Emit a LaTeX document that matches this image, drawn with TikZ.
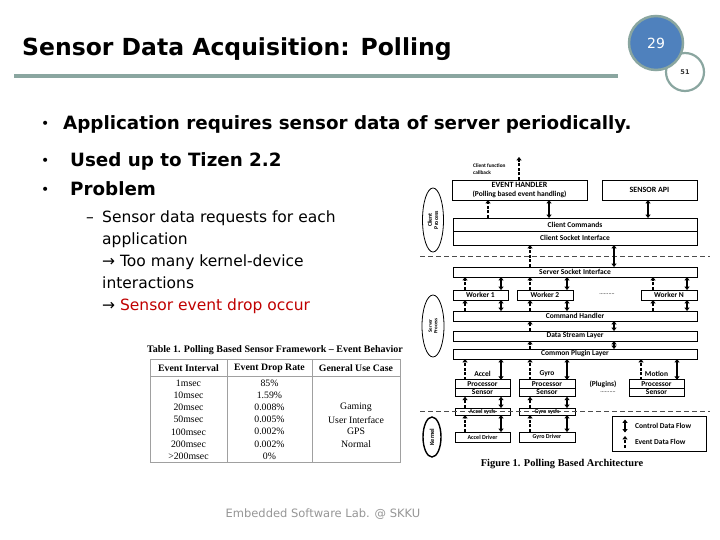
\documentclass[tikz,border=0pt]{standalone}
\usepackage{fontspec}
\setmainfont{DejaVu Sans}
\newfontfamily\figfont{Carlito}
\newfontfamily\serfont{Liberation Serif}
\usetikzlibrary{arrows.meta, shapes.geometric, positioning}

\definecolor{titleline}{RGB}{138,166,160}
\definecolor{pageblue}{RGB}{79,129,189}
\definecolor{alertred}{RGB}{192,0,0}
\definecolor{footgray}{RGB}{150,150,150}
\definecolor{tablegray}{RGB}{160,160,160}

\begin{document}
\begin{tikzpicture}[x=1pt, y=-1pt,
        slidetitle/.style={font=\bfseries\fontsize{23.5}{28}\selectfont, inner sep=0pt, anchor=base west},
        bigbullet/.style={font=\bfseries\fontsize{18.3}{22}\selectfont, inner sep=0pt, anchor=base west},
        dotmark/.style={inner sep=0pt, anchor=base west, font=\fontsize{14}{16}\selectfont},
        subline/.style={font=\fontsize{15.5}{19}\selectfont, inner sep=0pt, anchor=base west},
        archbox/.style={draw, line width=0.7pt, fill=white, inner sep=0pt, outer sep=0pt, font=\figfont\bfseries\fontsize{7.5}{8}\selectfont},
        smallbox/.style={archbox, font=\figfont\bfseries\fontsize{6}{6}\selectfont},
        figlabel/.style={inner sep=0pt, font=\figfont\bfseries\fontsize{7.5}{8}\selectfont},
        procell/.style={ellipse, draw, line width=0.8pt, fill=white, inner sep=0pt, align=center, rotate=90, font=\figfont\bfseries\fontsize{5.8}{6.3}\selectfont},
        ctrl/.style={{Triangle[length=3.4pt,width=5pt]}-{Triangle[length=3.4pt,width=5pt]}, line width=1.4pt},
        event/.style={-{Triangle[length=3.4pt,width=5pt]}, line width=1.3pt, dash pattern=on 3pt off 1.6pt},
        sepline/.style={line width=0.8pt, black!70, dash pattern=on 5pt off 3pt},
        tabcell/.style={inner sep=0pt, font=\serfont\fontsize{9.8}{10}\selectfont},
        tabhead/.style={tabcell, font=\serfont\bfseries\fontsize{9.8}{10}\selectfont}
    ]
    \useasboundingbox (0,0) rectangle (720,540);
    \fill[white] (0,0) rectangle (720,540);

    % --- title and page marks ---
    \node [slidetitle] (title) at (22,56) {Sensor Data Acquisition: Polling};
    \draw [titleline, line width=4pt] (14,76) -- (618,76);
    \node [circle, draw=titleline, line width=2.2pt, fill=white, minimum size=38, inner sep=0pt, font=\bfseries\fontsize{6.5}{7}\selectfont, text=black!80] (pgtotal) at (685,72) {51};
    \node [circle, draw=titleline, line width=2.5pt, fill=pageblue, minimum size=54, inner sep=0pt, font=\fontsize{14}{16}\selectfont, text=white] (pgnum) at (656,43) {29};

    % --- bullets ---
    \node [dotmark] (dotapp) at (41,129) {•};
    \node [bigbullet] (bapp) at (63,130) {Application requires sensor data of server periodically.};
    \node [dotmark] (dottiz) at (41,166) {•};
    \node [bigbullet] (btiz) at (70,167) {Used up to Tizen 2.2};
    \node [dotmark] (dotprob) at (41,195) {•};
    \node [bigbullet] (bprob) at (70,196) {Problem};
    \node [subline] (dashreq) at (86,222.5) {–};
    \node [subline] (sreq) at (102,222.5) {Sensor data requests for each};
    \node [subline] (sapp) at (102,244.5) {application};
    \node [subline] (stoo) at (102,266.5) {→ Too many kernel-device};
    \node [subline] (sint) at (102,288.5) {interactions};
    \node [subline] (sdrop) at (102,310.5) {→ \textcolor{alertred}{Sensor event drop occur}};

    % --- table ---
    \node [tabhead, font=\serfont\bfseries\fontsize{10}{10}\selectfont] (tcap) at (275,350) {Table 1. Polling Based Sensor Framework – Event Behavior};
    \draw [tablegray, line width=0.6pt] (150,359) rectangle (400,462);
    \draw [tablegray, line width=0.6pt] (227,359) -- (227,462) (312,359) -- (312,462) (150,376) -- (400,376);
    \node [tabhead] (hint) at (188.5,368) {Event Interval};
    \node [tabhead] (hrate) at (269.5,368) {Event Drop Rate};
    \node [tabhead] (huse) at (356,368) {General Use Case};
    \foreach \intv/\rate/\usecase [count=\r from 0] in {1msec/85\%/{}, 10msec/1.59\%/{}, 20msec/0.008\%/Gaming, 50msec/0.005\%/User Interface, 100msec/0.002\%/GPS, 200msec/0.002\%/Normal, >200msec/0\%/{}} {
        \node [tabcell] (int\r) at (188.5,{383+12.2*\r}) {\intv};
        \node [tabcell] (rate\r) at (269.5,{383+12.2*\r}) {\rate};
        \node [tabcell] (use\r) at (356,{383+12.2*\r}) {\usecase};
    }

    % --- architecture: client process ---
    \node [archbox, minimum width=135, minimum height=20, align=center, font=\figfont\bfseries\fontsize{7.5}{8.5}\selectfont] (evh) at (519.5,190) {{\fontsize{8}{8.5}\selectfont EVENT HANDLER}\\(Polling based event handling)};
    \node [archbox, minimum width=95, minimum height=20, font=\figfont\bfseries\fontsize{8}{8}\selectfont] (api) at (649.5,190) {SENSOR API};
    \node [archbox, minimum width=244, minimum height=13.5] (ccmd) at (575,224.75) {Client Commands};
    \node [archbox, minimum width=244, minimum height=13.5, below=0pt of ccmd] (csock) {Client Socket Interface};
    \node [figlabel, align=left, anchor=west, font=\figfont\bfseries\fontsize{5.3}{6.5}\selectfont] (cbtext) at (473,169) {Client function\\callback};
    \node [procell, minimum width=64, minimum height=21] (cproc) at (433,220) {Client\\Process};

    % --- server process ---
    \node [archbox, minimum width=244, minimum height=10] (ssock) at (575,272) {Server Socket Interface};
    \node [archbox, minimum width=55, minimum height=10] (wone) at (480.5,295) {Worker 1};
    \node [archbox, minimum width=56, minimum height=10] (wtwo) at (545,295) {Worker 2};
    \node [figlabel, font=\figfont\fontsize{6}{6}\selectfont] (wdots) at (607,294) {..........};
    \node [archbox, minimum width=56, minimum height=10] (wn) at (669,295) {Worker N};
    \node [archbox, minimum width=244, minimum height=10] (cmdh) at (575,316) {Command Handler};
    \node [archbox, minimum width=244, minimum height=10] (dsl) at (575,336) {Data Stream Layer};
    \node [archbox, minimum width=244, minimum height=10] (cpl) at (575,354) {Common Plugin Layer};
    \node [procell, minimum width=62, minimum height=22, font=\figfont\bfseries\fontsize{5}{5.7}\selectfont] (sproc) at (433,326) {Server\\Process};

    % --- plugins ---
    \node [archbox, minimum width=55, minimum height=8.5] (aproc) at (482.5,384) {Processor};
    \node [archbox, minimum width=55, minimum height=8.5, below=0pt of aproc] (asens) {Sensor};
    \node [archbox, minimum width=56, minimum height=8.5] (gproc) at (547,384) {Processor};
    \node [archbox, minimum width=56, minimum height=8.5, below=0pt of gproc] (gsens) {Sensor};
    \node [archbox, minimum width=55, minimum height=8.5] (mproc) at (656.5,384) {Processor};
    \node [archbox, minimum width=55, minimum height=8.5, below=0pt of mproc] (msens) {Sensor};
    \node [figlabel, above=2.5pt of aproc] (alab) {Accel};
    \node [figlabel, above=2.5pt of gproc] (glab) {Gyro};
    \node [figlabel, above=2.5pt of mproc] (mlab) {Motion};
    \node [figlabel] (plugins) at (603,384) {(Plugins)};
    \node [figlabel, font=\figfont\fontsize{6}{6}\selectfont] (pdots) at (608,392) {..........};

    % --- kernel ---
    \node [smallbox, minimum width=55, minimum height=7] (asys) at (482.5,411.5) {Accel sysfs};
    \node [smallbox, minimum width=56, minimum height=7] (gsys) at (547,411.5) {Gyro sysfs};
    \node [smallbox, minimum width=55, minimum height=10] (adrv) at (482.5,437) {Accel Driver};
    \node [smallbox, minimum width=56, minimum height=10] (gdrv) at (547,437) {Gyro Driver};
    \node [procell, minimum width=40, minimum height=18, line width=1.4pt, font=\figfont\bfseries\fontsize{6.3}{7}\selectfont] (kern) at (432,437) {Kernel};

    % --- layer separators ---
    \draw [sepline] (420,256) -- (710,256);
    \draw [sepline] (420,411) -- (710,411);

    % --- connectors ---
    \coordinate (xcb) at (519,0);  \coordinate (xev) at (488,0);
    \coordinate (xctl) at (549,0); \coordinate (xapi) at (648,0);
    \coordinate (xa) at (465,0);   \coordinate (xb) at (501,0);
    \coordinate (xc) at (530,0);   \coordinate (xd) at (567,0);
    \coordinate (xe) at (614,0);   \coordinate (xf) at (653,0);
    \coordinate (xg) at (687,0);   \coordinate (xh) at (641,0);
    \coordinate (xi) at (677,0);
    \coordinate (cbtip) at (519,157);

    \draw [event] (evh.north -| xcb) -- (cbtip);
    \draw [event] (ccmd.north -| xev) -- (evh.south -| xev);
    \draw [ctrl] (ccmd.north -| xctl) -- (evh.south -| xctl);
    \draw [ctrl] (ccmd.north -| xapi) -- (api.south -| xapi);
    \draw [event] (ssock.north -| xc) -- (csock.south -| xc);
    \draw [ctrl] (ssock.north -| xe) -- (csock.south -| xe);

    \foreach \w/\xdash/\xsol in {wone/xa/xb, wtwo/xc/xd, wn/xf/xg} {
        \draw [event] (\w.north -| \xdash) -- (ssock.south -| \xdash);
        \draw [ctrl] (\w.north -| \xsol) -- (ssock.south -| \xsol);
        \draw [event] (cmdh.north -| \xdash) -- (\w.south -| \xdash);
        \draw [ctrl] (cmdh.north -| \xsol) -- (\w.south -| \xsol);
    }
    \draw [event] (dsl.north -| xc) -- (cmdh.south -| xc);
    \draw [ctrl] (dsl.north -| xe) -- (cmdh.south -| xe);
    \draw [event] (cpl.north -| xc) -- (dsl.south -| xc);
    \draw [ctrl] (cpl.north -| xe) -- (dsl.south -| xe);

    \foreach \p/\xdash/\xsol in {aproc/xa/xb, gproc/xc/xd, mproc/xh/xi} {
        \draw [event] (\p.north -| \xdash) -- (cpl.south -| \xdash);
        \draw [ctrl] (\p.north -| \xsol) -- (cpl.south -| \xsol);
    }
    \foreach \s/\sys/\drv/\xdash/\xsol in {asens/asys/adrv/xa/xb, gsens/gsys/gdrv/xc/xd} {
        \draw [event] (\sys.north -| \xdash) -- (\s.south -| \xdash);
        \draw [ctrl] (\sys.north -| \xsol) -- (\s.south -| \xsol);
        \draw [event] (\drv.north -| \xdash) -- (\sys.south -| \xdash);
        \draw [ctrl] (\drv.north -| \xsol) -- (\sys.south -| \xsol);
    }

    % --- legend ---
    \node [draw, line width=0.9pt, minimum width=94, minimum height=35, inner sep=0pt] (legend) at (659,433.5) {};
    \node [figlabel, anchor=west] (lgctl) at (635,426) {Control Data Flow};
    \node [figlabel, anchor=west] (lgev) at (635,442) {Event Data Flow};
    \coordinate (lgct) at (625,419.5);
    \coordinate (lgcb) at (625,432.5);
    \coordinate (lget) at (625,436);
    \coordinate (lgeb) at (625,448);
    \draw [ctrl] (lgcb) -- (lgct);
    \draw [event] (lgeb) -- (lget);

    \node [tabhead, font=\serfont\bfseries\fontsize{10.4}{11}\selectfont] (figcap) at (562,464) {Figure 1. Polling Based Architecture};

    % --- footer ---
    \node [inner sep=0pt, anchor=base, text=footgray, font=\fontsize{11.5}{13}\selectfont] (footer) at (323,517) {Embedded Software Lab. @ SKKU};
\end{tikzpicture}
\end{document}
